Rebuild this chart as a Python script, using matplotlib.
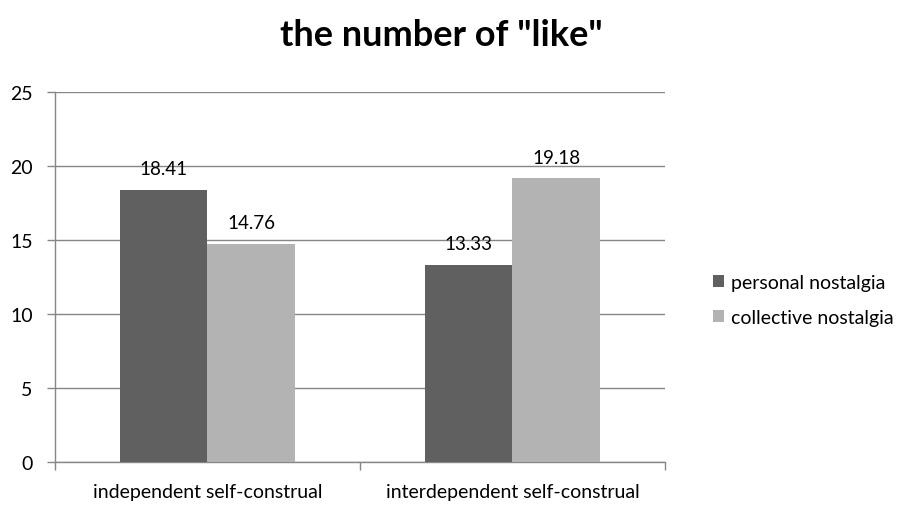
import matplotlib.pyplot as plt
import numpy as np
from matplotlib.patches import Patch

plt.rcParams['font.family'] = ['Lato', 'DejaVu Sans']

# category labels and the two series
groups = ['independent self-construal', 'interdependent self-construal']
series = ['personal nostalgia', 'collective nostalgia']
personal = [18.41, 13.33]
collective = [14.76, 19.18]
colors = ['#606060', '#b3b3b3']

fig = plt.figure(figsize=(8.98, 5.10), dpi=100)
ax = fig.add_axes([0.0612, 0.0922, 0.6793, 0.7255])

x = np.arange(len(groups))
w = 1 / 3.5  # Excel style 150% gap width
for i, (vals, c) in enumerate(zip([personal, collective], colors)):
    pos = x - w / 2 + i * w
    bars = ax.bar(pos, vals, width=w, color=c, zorder=3, label=series[i])
    for b, v in zip(bars, vals):
        ax.annotate(f'{v:.2f}', (b.get_x() + b.get_width() / 2, v),
                    xytext=(0, 9), textcoords='offset points',
                    ha='center', va='bottom', fontsize=13.5, color='#000000')

ax.set_xlim(-0.5, 1.5)
ax.set_ylim(0, 25)
ax.set_yticks(range(0, 26, 5))
ax.yaxis.grid(True, color='#868686', linewidth=1, zorder=0)
ax.set_xticks([-0.5, 0.5, 1.5], minor=False)
ax.set_xticklabels([])
ax.set_xticks(x, minor=True)
ax.set_xticklabels(groups, minor=True)
ax.tick_params(axis='x', which='minor', length=0, pad=15, labelsize=14)
ax.tick_params(axis='x', which='major', length=6, color='#868686', width=1)
ax.tick_params(axis='y', length=6, color='#868686', width=1, labelsize=14, pad=10)

for side in ['top', 'right']:
    ax.spines[side].set_visible(False)
for side in ['left', 'bottom']:
    ax.spines[side].set_color('#868686')
    ax.spines[side].set_linewidth(1)

fig.suptitle('the number of "like"', fontsize=26, fontweight='bold',
             y=0.962, x=0.491)

handles = [Patch(facecolor=c) for c in colors]
fig.legend(handles, series, loc='center left', bbox_to_anchor=(0.785, 0.41),
           frameon=False, fontsize=14, handlelength=0.6, handleheight=0.6,
           handletextpad=0.35, labelspacing=0.95, borderaxespad=0)

fig.savefig('out.png', dpi=100)
